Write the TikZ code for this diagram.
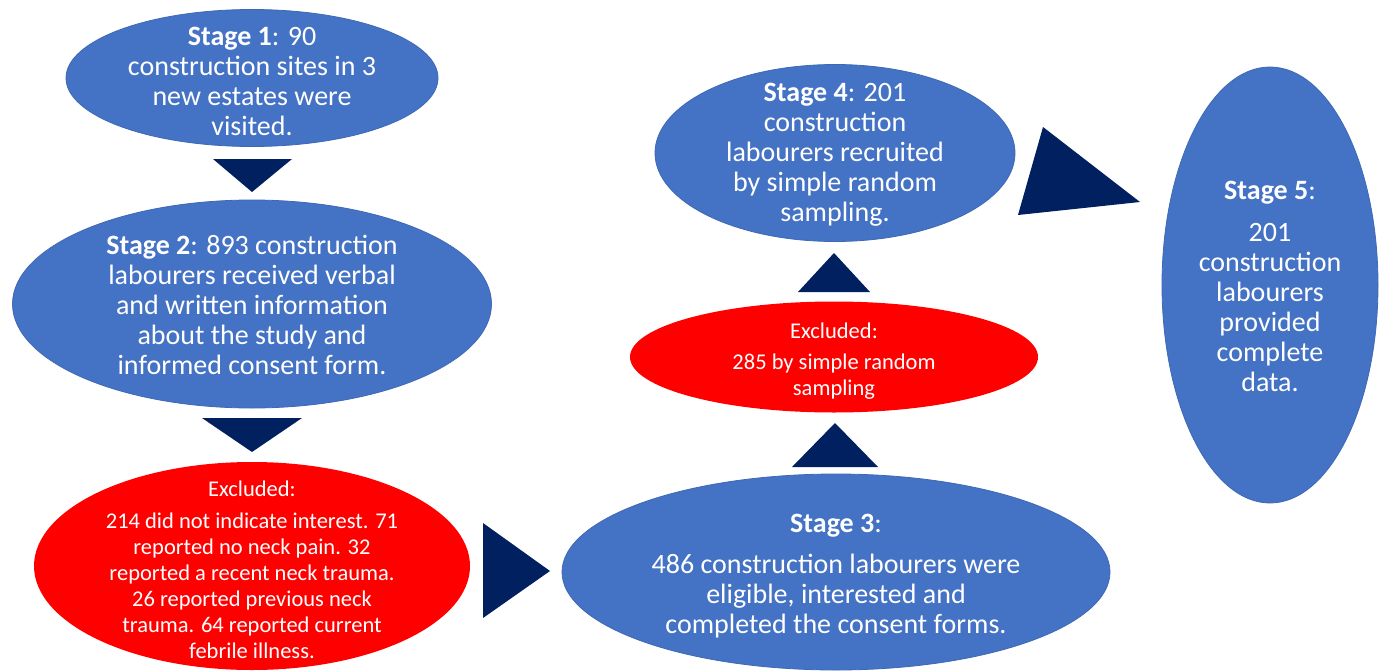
\documentclass[tikz,border=0pt]{standalone}
\usepackage{fontspec}
\setmainfont{Carlito}
\usetikzlibrary{shapes.geometric}
\definecolor{stageblue}{HTML}{4472C4}
\definecolor{stageedge}{HTML}{3E69B5}
\definecolor{exred}{HTML}{FF0000}
\definecolor{navy}{HTML}{002060}
\tikzset{
  stagebox/.style={ellipse, fill=stageblue, draw=stageedge, line width=0.8pt, inner sep=0pt},
  exbox/.style={ellipse, fill=exred, draw=none, inner sep=0pt},
  bigtxt/.style={text=white, align=center, inner sep=0pt, font=\fontsize{28}{30}\selectfont},
  smalltxt/.style={text=white, align=center, inner sep=0pt, font=\fontsize{22.5}{26}\selectfont},
  arrowhead/.style={fill=navy, draw=none}
}
\begin{document}
\begin{tikzpicture}[x=1pt, y=-1pt]
\useasboundingbox (0,0) rectangle (1379,672);
\fill[white] (0,0) rectangle (1379,672);

% ellipses
\node[stagebox, minimum width=372pt, minimum height=137pt] (s1) at (252,78) {};
\node[stagebox, minimum width=479pt, minimum height=208pt] (s2) at (252,304) {};
\node[exbox, minimum width=436pt, minimum height=208pt] (ex1) at (252,566) {};
\node[stagebox, minimum width=548pt, minimum height=196pt] (s3) at (836,572) {};
\node[exbox, minimum width=408pt, minimum height=111pt] (ex2) at (834,357) {};
\node[stagebox, minimum width=360pt, minimum height=177pt] (s4) at (835,153) {};
\node[stagebox, minimum width=216pt, minimum height=436pt] (s5) at (1270,285) {};

% texts
\node[bigtxt] (s1t) at ([yshift=-3pt]s1.center) {\textbf{Stage 1}: 90\\construction sites in 3\\new estates were\\visited.};
\node[bigtxt] (s2t) at ([yshift=-1pt]s2.center) {\textbf{Stage 2}: 893 construction\\labourers received verbal\\and written information\\about the study and\\informed consent form.};
\node[bigtxt] (s3t) at ([yshift=-4pt]s3.center) {\textbf{Stage 3}:\\[11pt]486 construction labourers were\\eligible, interested and\\completed the consent forms.};
\node[bigtxt] (s4t) at ([yshift=-2pt]s4.center) {\textbf{Stage 4}: 201\\construction\\labourers recruited\\by simple random\\sampling.};
\node[bigtxt] (s5t) at ([yshift=-1pt]s5.center) {\textbf{Stage 5}:\\[12pt]201\\construction\\labourers\\provided\\complete\\data.};
\node[smalltxt] (ex1t) at ([yshift=-4pt]ex1.center) {Excluded:\\[6pt]214 did not indicate interest. 71\\reported no neck pain. 32\\reported a recent neck trauma.\\26 reported previous neck\\trauma. 64 reported current\\febrile illness.};
\node[smalltxt] (ex2t) at ([yshift=-4pt]ex2.center) {Excluded:\\[5pt]285 by simple random\\sampling};

% block arrowheads between the stages
\fill[arrowhead] (213,159) -- (292,159) -- (252,192) -- cycle;
\fill[arrowhead] (202,418) -- (302,418) -- (252,452) -- cycle;
\fill[arrowhead] (483,523) -- (483,618) -- (550,571) -- cycle;
\fill[arrowhead] (792,467) -- (878,467) -- (835,423) -- cycle;
\fill[arrowhead] (798,292) -- (870,292) -- (834,253) -- cycle;
\fill[arrowhead] (1043,127) -- (1018,215) -- (1140,202) -- cycle;
\end{tikzpicture}
\end{document}
